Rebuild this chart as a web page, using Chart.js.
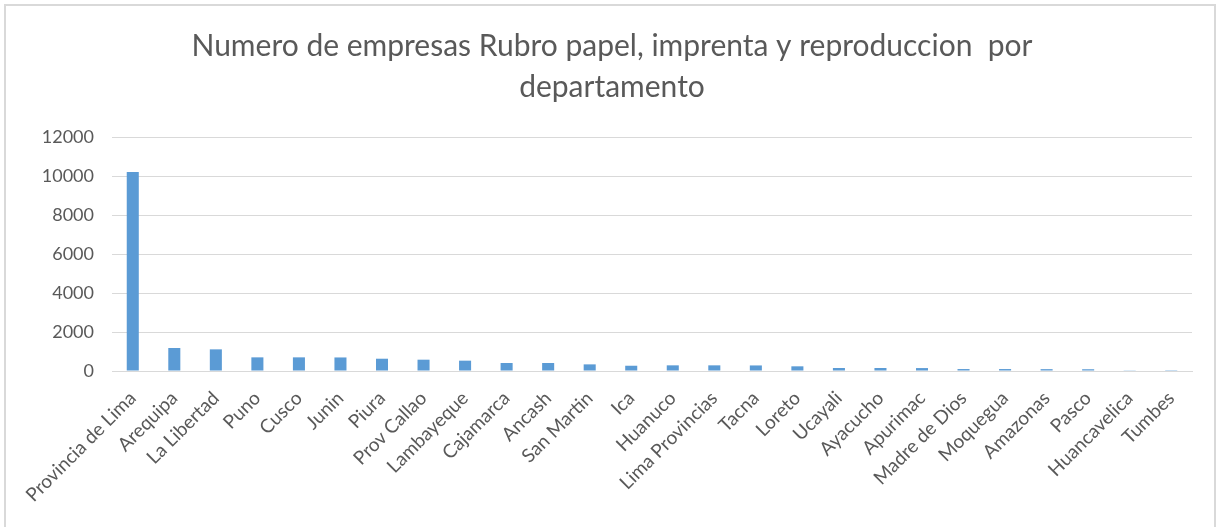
<!DOCTYPE html>
<html lang="es">
<head>
    <meta charset="UTF-8">
    <title>Numero de empresas por departamento</title>
    <script src="https://cdn.jsdelivr.net/npm/chart.js"></script>
    <style>
        body { margin: 0; background: #fff; }
        #wrap { position: relative; width: 1216px; height: 527px; overflow: hidden; }
        #frame { position: absolute; left: 4px; top: 4px; width: 1208px; height: 560px; border: 2px solid #d9d9d9; }
        #chart { position: absolute; left: 0; top: 0; }
    </style>
</head>
<body>
    <div id="wrap">
        <div id="frame"></div>
        <canvas id="chart" width="1216" height="527"></canvas>
    </div>

    <script>
        const departamentos = [
            'Provincia de Lima', 'Arequipa', 'La Libertad', 'Puno', 'Cusco', 'Junin', 'Piura',
            'Prov Callao', 'Lambayeque', 'Cajamarca', 'Ancash', 'San Martin', 'Ica', 'Huanuco',
            'Lima Provincias', 'Tacna', 'Loreto', 'Ucayali', 'Ayacucho', 'Apurimac',
            'Madre de Dios', 'Moquegua', 'Amazonas', 'Pasco', 'Huancavelica', 'Tumbes'
        ];
        const empresas = [
            10200, 1180, 1110, 700, 700, 695, 630,
            580, 530, 410, 410, 340, 270, 290,
            290, 285, 240, 155, 155, 150,
            100, 100, 95, 90, 15, 8
        ];
        const yTicks = [0, 2000, 4000, 6000, 8000, 10000, 12000];
        const titulo = ['Numero de empresas Rubro papel, imprenta y reproduccion  por', 'departamento'];

        const gris = '#595959';
        const rejilla = '#d9d9d9';

        const ctx = document.getElementById('chart').getContext('2d');
        new Chart(ctx, {
            type: 'bar',
            data: {
                labels: departamentos,
                datasets: [{
                    label: 'Empresas',
                    data: empresas,
                    backgroundColor: '#5b9bd5',
                    categoryPercentage: 1,
                    barPercentage: 0.29
                }]
            },
            options: {
                responsive: false,
                animation: false,
                // left/right padding kept equal-ish so the title centres like the original
                layout: { padding: { left: 32, right: 24, top: 0, bottom: 6 } },
                plugins: {
                    legend: { display: false },
                    tooltip: { enabled: false },
                    title: {
                        display: true,
                        text: titulo,
                        color: gris,
                        font: { family: 'Lato', size: 30, weight: 'normal', lineHeight: '41px' },
                        padding: { top: 26, bottom: 29 }
                    }
                },
                scales: {
                    x: {
                        grid: { display: false, drawTicks: false },
                        border: { color: rejilla, width: 1 },
                        ticks: {
                            color: gris,
                            font: { family: 'Lato', size: 19 },
                            maxRotation: 45,
                            minRotation: 45,
                            autoSkip: false,
                            padding: 16
                        },
                        afterFit: function (scale) { scale.height = 150; }
                    },
                    y: {
                        min: 0,
                        max: 12000,
                        afterBuildTicks: function (scale) {
                            scale.ticks = yTicks.map(v => ({ value: v }));
                        },
                        grid: { color: rejilla, lineWidth: 1, drawTicks: false },
                        border: { display: false },
                        ticks: {
                            color: gris,
                            font: { family: 'Lato', size: 18 },
                            padding: 18,
                            callback: function (value) { return String(value); }
                        },
                        afterFit: function (scale) { scale.width = 80; }
                    }
                }
            }
        });
    </script>
</body>
</html>
